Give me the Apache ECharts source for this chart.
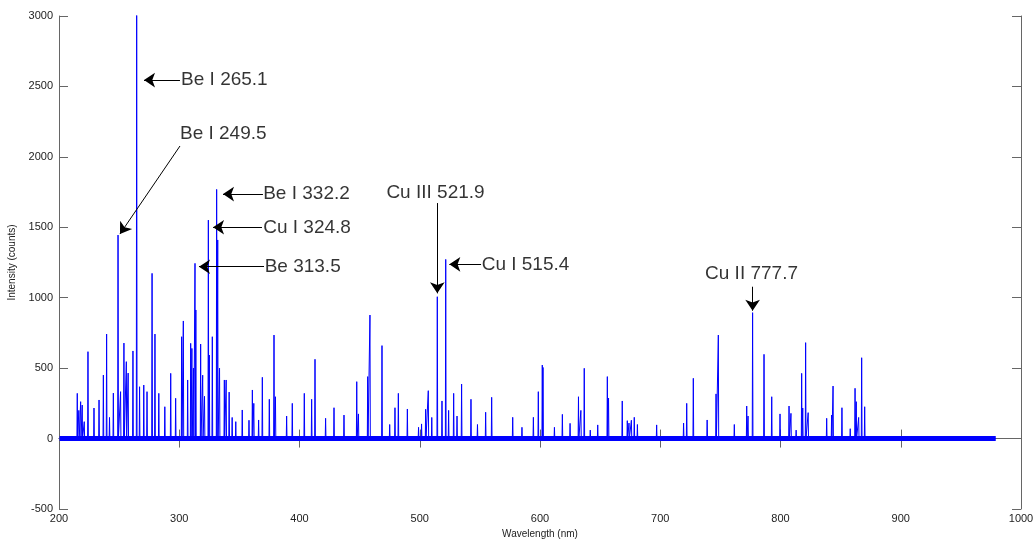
<!DOCTYPE html>
<html>
<head>
<meta charset="utf-8">
<script src="https://cdn.jsdelivr.net/npm/echarts@6/dist/echarts.min.js"></script>
<style>
html,body{margin:0;padding:0;background:#fff;}
#chart{width:1033px;height:540px;}
</style>
</head>
<body>
<div id="chart"></div>
<script>
// ---- data ----
var xTicks = [200, 300, 400, 500, 600, 700, 800, 900, 1000];
var yTicks = [-500, 0, 500, 1000, 1500, 2000, 2500, 3000];

var peakWavelengths = [
  215.2,216.5,218.0,219.3,221.0,224.1,229.1,233.3,236.9,239.6,242.0,245.2,249.1,251.2,254.0,256.0,257.5,261.5,264.6,267.0,
  270.5,273.2,277.4,279.8,283.0,288.0,292.9,297.0,302.0,303.4,307.0,309.5,310.5,311.8,313.1,313.8,317.8,319.5,321.0,324.2,
  325.0,327.5,331.1,332.0,333.5,337.5,339.0,341.5,344.0,347.0,352.4,358.0,360.8,362.0,366.0,369.1,374.9,378.8,380.0,389.3,
  394.0,404.0,410.1,412.9,421.7,428.7,437.0,447.6,449.0,456.7,458.6,468.6,475.0,479.4,482.2,489.7,499.0,501.5,504.9,507.1,
  510.0,514.6,518.5,521.6,524.0,528.2,531.0,534.8,542.6,548.0,554.8,559.8,577.3,585.0,594.5,598.6,601.9,602.5,612.0,618.6,
  625.0,632.0,634.0,636.8,641.8,648.0,656.0,657.0,668.4,672.6,674.0,676.0,678.4,681.0,697.0,719.4,722.0,727.5,739.0,746.4,
  748.3,761.6,771.9,773.0,776.8,786.3,792.7,799.6,807.1,808.7,813.0,817.6,818.5,820.9,823.0,838.4,842.5,843.7,851.1,858.0,
  862.0,863.0,865.0,867.5,870.0
];
var peakIntensities = [
  321,200,262,238,120,617,217,274,451,742,150,323,1445,333,678,546,465,622,3200,368,
  380,333,1173,742,321,226,463,286,723,835,416,676,640,500,1244,913,671,450,300,1551,
  593,723,1769,1410,500,416,416,330,150,120,203,130,345,250,132,435,279,735,297,160,
  250,321,279,563,144,219,167,404,175,440,877,660,100,219,321,210,80,104,208,340,
  150,1007,267,1272,200,321,160,387,279,100,187,293,151,80,151,333,522,505,80,172,
  108,297,200,499,60,97,440,288,267,127,110,130,151,100,97,110,250,428,132,317,
  735,100,231,160,894,598,297,175,231,179,60,463,217,681,184,144,167,373,219,70,
  357,262,150,574,226
];
var baselineRange = [200.5, 979];

var annNames  = ['Be I 265.1','Be I 249.5','Be I 332.2','Cu I 324.8','Be 313.5','Cu III 521.9','Cu I 515.4','Cu II 777.7'];
var annTextAt = [[301.5,2545],[300.6,2167],[369.8,1736],[369.8,1500],[371.0,1220],[513.1,1745],[551.5,1237],[775.9,1173]];
var annTail   = [[300.6,2545],[300.6,2077],[369.6,1736],[368.8,1500],[370.5,1220],[514.6,1672],[551.0,1237],[776.8,1078]];
var annTip    = [[270.7,2545],[250.7,1452],[336.4,1736],[328.1,1500],[316.4,1220],[514.6,1031],[524.6,1237],[776.8,908]];

// ---- build series data ----
var halfWidth = 0.3;
var order = peakWavelengths.map(function(_, i){ return i; })
  .sort(function(a, b){ return peakWavelengths[a] - peakWavelengths[b]; });
var spectrum = [[baselineRange[0], 0]];
order.forEach(function(i){
  var w = peakWavelengths[i], h = peakIntensities[i];
  spectrum.push([w - halfWidth, 0], [w, h], [w + halfWidth, 0]);
});
spectrum.push([baselineRange[1], 0]);

var arrows = annNames.map(function(n, i){ return { coords: [annTail[i], annTip[i]] }; });
var labels = annNames.map(function(n, i){
  var vertical = annTail[i][0] === annTip[i][0];
  return {
    name: n,
    value: annTextAt[i],
    label: { position: vertical ? 'inside' : 'right', distance: 0 }
  };
});

var FONT = '"Liberation Sans", Arial, sans-serif';
var axisColor = '#666';
var plain = function(v){ return String(v); };

var chart = echarts.init(document.getElementById('chart'), null, { renderer: 'canvas' });
chart.setOption({
  animation: false,
  backgroundColor: '#fff',
  grid: { left: 59, right: 12, top: 16, bottom: 31, containLabel: false, outerBoundsMode: 'none' },
  xAxis: [
    {
      type: 'value', min: xTicks[0], max: xTicks[xTicks.length - 1], interval: 100,
      position: 'bottom',
      name: 'Wavelength (nm)', nameLocation: 'middle', nameGap: 17,
      nameTextStyle: { fontFamily: FONT, fontSize: 10, color: '#222' },
      axisLine: { show: true, lineStyle: { color: axisColor, width: 1 } },
      axisTick: { show: true, inside: true, length: 9, lineStyle: { color: axisColor } },
      axisLabel: { fontFamily: FONT, fontSize: 11, color: '#222', margin: 4, formatter: plain },
      splitLine: { show: false }
    },
    {
      type: 'value', min: xTicks[0], max: xTicks[xTicks.length - 1], interval: 100,
      position: 'top',
      axisLine: { show: true, lineStyle: { color: axisColor, width: 1 } },
      axisTick: { show: true, inside: true, length: 9, lineStyle: { color: axisColor } },
      axisLabel: { show: false },
      splitLine: { show: false }
    }
  ],
  yAxis: [
    {
      type: 'value', min: yTicks[0], max: yTicks[yTicks.length - 1], interval: 500,
      position: 'left',
      name: 'Intensity (counts)', nameLocation: 'middle', nameGap: 36,
      nameTextStyle: { fontFamily: FONT, fontSize: 10, color: '#222' },
      axisLine: { show: true, lineStyle: { color: axisColor, width: 1 } },
      axisTick: { show: true, inside: true, length: 9, lineStyle: { color: axisColor } },
      axisLabel: { fontFamily: FONT, fontSize: 11, color: '#222', margin: 6, formatter: plain },
      splitLine: { show: false }
    },
    {
      type: 'value', min: yTicks[0], max: yTicks[yTicks.length - 1], interval: 500,
      position: 'right',
      axisLine: { show: true, lineStyle: { color: axisColor, width: 1 } },
      axisTick: { show: true, inside: true, length: 9, lineStyle: { color: axisColor } },
      axisLabel: { show: false },
      splitLine: { show: false }
    }
  ],
  series: [
    {
      type: 'line', name: 'baseline', data: [[baselineRange[0], 0], [baselineRange[1], 0]],
      symbol: 'none', silent: true, lineStyle: { color: '#0000ff', width: 5 }, z: 2
    },
    {
      type: 'line', name: 'spectrum', data: spectrum, symbol: 'none', silent: true,
      lineStyle: { color: '#0000ff', width: 1 }, clip: true, z: 3
    },
    {
      type: 'lines', coordinateSystem: 'cartesian2d', data: arrows, silent: true,
      symbol: ['none', 'arrow'], symbolSize: [7, 11],
      lineStyle: { color: '#000', width: 1, opacity: 1, curveness: 0 }, z: 5
    },
    {
      type: 'scatter', data: labels, symbolSize: 0, silent: true, z: 6,
      label: { show: true, formatter: function(p){ return p.name; },
               fontFamily: FONT, fontSize: 19, color: '#000' }
    }
  ]
});
</script>
</body>
</html>
